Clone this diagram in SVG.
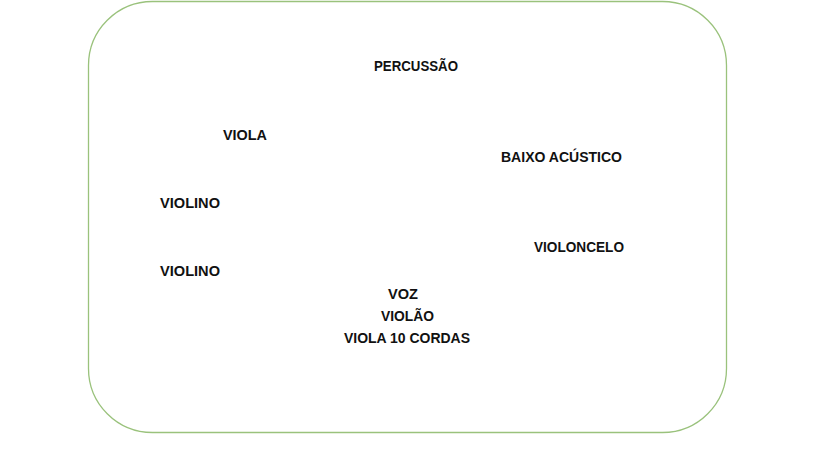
<svg xmlns="http://www.w3.org/2000/svg" width="819" height="460" viewBox="0 0 819 460">
<style>
.t{font-family:"Liberation Sans",Arial,sans-serif;font-weight:bold;font-size:14px;fill:#111}
</style>
<rect width="819" height="460" fill="#fff"/>
<g id="frame"><rect x="88.5" y="1.5" width="638" height="431" rx="64" ry="64" fill="none" stroke="#9ac27c" stroke-width="1.3"/></g>
<g id="percussao"><text class="t" x="374" y="71" textLength="84" lengthAdjust="spacingAndGlyphs">PERCUSSÃO</text></g>
<g id="viola"><text class="t" x="223" y="140" textLength="44" lengthAdjust="spacingAndGlyphs">VIOLA</text></g>
<g id="baixo"><text class="t" x="501" y="162" textLength="121" lengthAdjust="spacingAndGlyphs">BAIXO ACÚSTICO</text></g>
<g id="violino1"><text class="t" x="160" y="208" textLength="60" lengthAdjust="spacingAndGlyphs">VIOLINO</text></g>
<g id="violoncelo"><text class="t" x="534" y="252" textLength="90" lengthAdjust="spacingAndGlyphs">VIOLONCELO</text></g>
<g id="violino2"><text class="t" x="160" y="276" textLength="60" lengthAdjust="spacingAndGlyphs">VIOLINO</text></g>
<g id="centro">
<text class="t" x="388" y="299" textLength="30" lengthAdjust="spacingAndGlyphs">VOZ</text>
<text class="t" x="381" y="321" textLength="53" lengthAdjust="spacingAndGlyphs">VIOLÃO</text>
<text class="t" x="344" y="343" textLength="126" lengthAdjust="spacingAndGlyphs">VIOLA 10 CORDAS</text>
</g>
<g id="connectors"/>
</svg>
